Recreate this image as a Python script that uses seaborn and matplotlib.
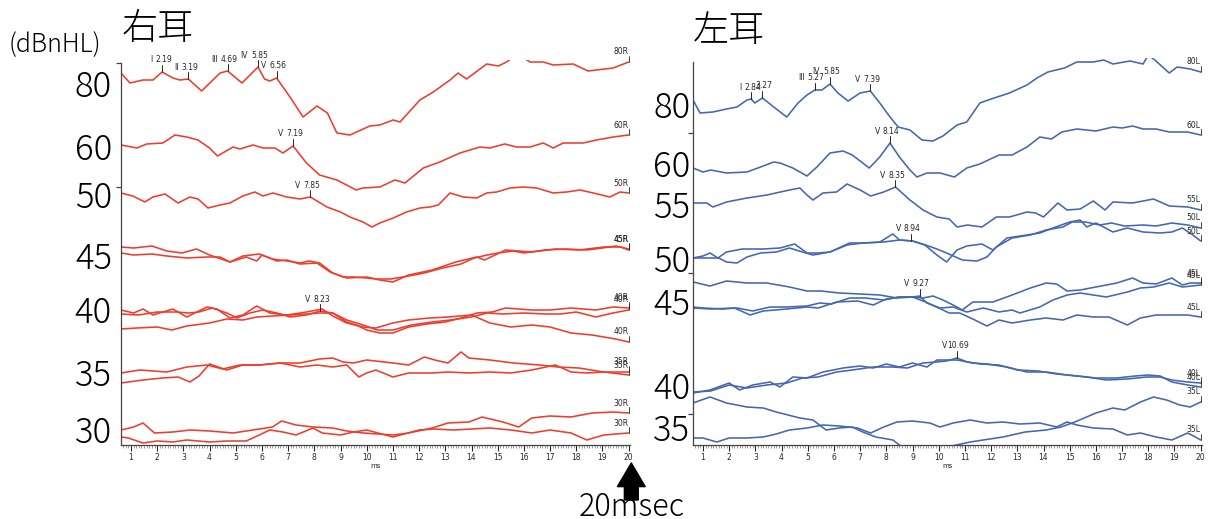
import numpy as np
import pandas as pd
import matplotlib
matplotlib.use("Agg")
import matplotlib.pyplot as plt
from matplotlib.ticker import MultipleLocator
import seaborn as sns

# ---------------- right ear (右耳) waveforms: latency [ms] / level ----------------
R80_MS = [0.62, 0.96, 1.46, 1.84, 2.19, 2.6, 2.87, 3.19, 3.7, 4.4, 4.69, 5.24, 5.85, 6.1, 6.3, 6.56,
          7.07, 7.57, 8.1, 8.5, 8.86, 9.36, 10.12, 10.5, 11.01, 11.27, 12.03, 12.54, 13.18, 13.49,
          13.81, 14.58, 15.02, 15.34, 15.6, 15.95, 16.23, 16.74, 17.12, 17.88, 18.45, 19.41, 20.0]
R80_LV = [372, 362, 365, 365, 373, 367, 365, 366, 354, 372, 374, 362, 378, 366, 364, 367,
          348, 328, 339, 332, 312, 310, 319, 320, 325, 323, 345, 353, 365, 372,
          366, 381, 379, 383, 388, 388, 383, 383, 380, 381, 374, 377, 383]

R60_MS = [0.62, 1.23, 1.6, 2.22, 2.68, 3.13, 3.56, 4.0, 4.3, 4.9, 5.16, 5.66, 6.04, 6.5, 6.8, 7.19,
          7.7, 8.2, 8.86, 9.6, 9.85, 10.5, 11.08, 11.46, 12.16, 12.79, 13.56, 14.32, 14.7, 15.27,
          15.72, 16.23, 16.74, 17.12, 17.5, 18.26, 18.77, 19.41, 20.0]
R60_LV = [300, 297, 301, 302, 310, 308, 305, 297, 289, 298, 296, 300, 297, 297, 292, 299,
          282, 270, 265, 255, 257, 258, 265, 262, 277, 283, 292, 298, 297, 301,
          298, 298, 302, 297, 302, 302, 305, 308, 310]

R50_MS = [0.62, 1.07, 1.53, 1.84, 2.3, 2.8, 3.25, 3.56, 3.94, 4.4, 4.78, 5.27, 5.73, 6.04, 6.42,
          6.95, 7.45, 7.85, 8.48, 9.0, 9.36, 9.86, 10.2, 10.5, 11.01, 11.52, 12.03, 12.41, 12.73,
          13.18, 13.69, 14.2, 14.58, 14.96, 15.47, 15.98, 16.49, 17.12, 17.63, 18.14, 18.65,
          19.28, 19.67, 20.0]
R50_LV = [252, 249, 243, 248, 251, 242, 248, 246, 237, 240, 242, 249, 253, 249, 252,
          248, 246, 248, 238, 233, 228, 223, 218, 222, 227, 233, 237, 238, 240,
          252, 248, 247, 252, 253, 257, 258, 257, 252, 253, 255, 252,
          248, 253, 252]

R45A_MS = [0.62, 1.1, 1.8, 2.37, 2.95, 3.5, 4.0, 4.78, 5.27, 5.9, 6.4, 6.95, 7.45, 7.8, 8.2, 8.7,
           9.24, 10.0, 10.5, 11.0, 11.6, 12.5, 13.4, 14.2, 14.5, 15.3, 16.3, 17.2, 18.1, 19.05,
           19.7, 20.0]
R45A_LV = [198, 197, 199, 194, 192, 196, 190, 183, 189, 191, 186, 184, 182, 184, 182, 172,
           167, 168, 165, 163, 170, 175, 183, 188, 185, 195, 193, 196, 195, 198,
           198, 195]

R45B_MS = [0.62, 1.1, 1.8, 2.37, 3.13, 3.9, 4.4, 4.78, 5.4, 5.8, 6.0, 6.57, 6.95, 7.45, 8.1, 8.6,
           9.1, 9.5, 10.0, 10.4, 10.9, 11.6, 12.2, 12.9, 13.6, 14.1, 14.6, 15.0, 15.6, 16.0,
           16.8, 17.6, 18.4, 19.0, 19.5, 20.0]
R45B_LV = [192, 190, 191, 189, 187, 188, 188, 183, 188, 184, 190, 184, 185, 181, 182, 173,
           168, 168, 167, 166, 166, 169, 172, 177, 181, 187, 190, 192, 194, 192,
           195, 196, 195, 197, 199, 196]

R40A_MS = [0.62, 1.1, 1.46, 1.84, 2.6, 3.13, 3.9, 4.28, 4.78, 5.27, 5.8, 6.3, 6.95, 7.7, 8.3, 8.7,
           9.24, 9.86, 10.35, 11.0, 11.6, 12.4, 13.1, 14.0, 14.7, 15.5, 16.3, 17.0, 17.8, 18.6,
           19.05, 19.5, 20.0]
R40A_LV = [135, 132, 136, 130, 136, 128, 138, 136, 127, 130, 139, 132, 130, 133, 136, 129,
           122, 118, 117, 122, 125, 127, 128, 130, 122, 118, 120, 118, 112, 110,
           108, 106, 103]

R40B_MS = [0.62, 1.3, 2.0, 2.75, 3.2, 3.6, 4.1, 4.66, 5.05, 5.54, 6.04, 6.57, 7.07, 7.7, 8.23, 8.7,
           9.24, 9.6, 10.0, 10.5, 11.0, 11.6, 12.3, 13.0, 13.6, 14.2, 14.8, 15.3, 16.3, 17.0,
           17.8, 18.75, 19.4, 20.0]
R40B_LV = [131, 130, 133, 133, 132, 133, 137, 132, 127, 132, 135, 132, 128, 130, 134, 132,
           123, 120, 115, 112, 112, 118, 121, 123, 127, 132, 133, 137, 135, 135,
           137, 135, 138, 137]

R40C_MS = [0.62, 1.23, 2.0, 2.56, 3.13, 4.0, 4.66, 5.27, 5.8, 6.42, 7.07, 7.7, 8.2, 8.7, 9.24, 9.86,
           10.4, 11.0, 11.7, 12.5, 13.2, 14.0, 14.6, 15.2, 16.0, 16.8, 17.4, 18.0, 18.75, 19.4, 20.0]
R40C_LV = [116, 117, 118, 115, 119, 122, 126, 125, 128, 129, 130, 131, 132, 132, 125, 120,
           115, 115, 120, 123, 125, 128, 132, 131, 132, 131, 131, 133, 128, 132, 135]

R35A_MS = [0.62, 1.34, 2.37, 3.13, 3.9, 4.5, 5.16, 5.9, 6.7, 7.45, 8.2, 8.7, 9.1, 9.5, 10.0, 11.0,
           11.6, 12.2, 12.6, 13.1, 13.6, 13.9, 14.7, 15.6, 16.6, 17.3, 18.1, 19.05, 20.0]
R35A_LV = [72, 75, 73, 78, 80, 76, 80, 80, 82, 82, 86, 87, 83, 82, 85, 82,
           80, 88, 85, 82, 93, 87, 85, 82, 80, 78, 77, 73, 73]

R35B_MS = [0.62, 1.46, 2.2, 2.8, 3.25, 3.6, 4.0, 4.66, 5.27, 5.9, 6.7, 7.45, 8.1, 8.7, 9.24, 9.7,
           10.0, 10.35, 11.0, 11.6, 12.5, 13.1, 13.9, 14.7, 15.5, 16.3, 17.2, 17.8, 18.4, 19.05, 20.0]
R35B_LV = [62, 65, 67, 68, 63, 69, 81, 75, 80, 80, 82, 78, 80, 78, 80, 68,
           72, 75, 68, 72, 72, 73, 72, 73, 72, 75, 80, 73, 72, 73, 70]

R30A_MS = [0.62, 1.1, 1.46, 1.9, 2.6, 3.25, 4.0, 4.9, 5.9, 6.4, 6.75, 7.3, 7.95, 8.7, 9.24, 9.86,
           11.0, 11.6, 12.5, 13.1, 13.9, 14.4, 15.2, 15.8, 16.3, 17.0, 17.8, 18.6, 19.4, 20.0]
R30A_LV = [15, 18, 22, 12, 13, 15, 14, 12, 16, 18, 24, 20, 18, 17, 14, 12,
           10, 12, 17, 22, 23, 28, 23, 18, 27, 29, 28, 32, 33, 32]

R30B_MS = [0.62, 0.9, 1.46, 2.0, 2.6, 3.13, 4.0, 4.66, 5.4, 5.9, 6.3, 6.8, 7.3, 7.95, 8.3, 9.0,
           9.5, 10.0, 11.0, 12.0, 12.6, 13.3, 14.0, 14.7, 15.5, 16.3, 17.0, 17.8, 18.4, 19.05, 20.0]
R30B_LV = [8, 7, 2, 4, 3, 5, 3, 4, 4, 10, 15, 13, 10, 17, 12, 10,
           13, 15, 8, 15, 16, 15, 16, 17, 15, 12, 15, 12, 5, 10, 12]

# ---------------- left ear (左耳) waveforms ----------------
L80_MS = [0.62, 0.89, 1.38, 1.9, 2.3, 2.68, 2.84, 2.98, 3.27, 3.75, 4.2, 4.63, 4.97, 5.27, 5.54,
          5.85, 6.15, 6.54, 7.0, 7.39, 7.75, 8.14, 8.45, 8.9, 9.36, 9.78, 10.16, 10.7, 11.07,
          11.57, 12.0, 12.7, 13.37, 13.75, 14.17, 14.8, 15.27, 15.9, 16.3, 16.65, 17.3, 17.8,
          18.0, 18.25, 18.8, 19.1, 19.6, 20.0]
L80_LV = [345, 332, 333, 336, 338, 345, 346, 342, 347, 337, 328, 342, 350, 355, 355,
          361, 352, 344, 352, 354, 342, 328, 318, 315, 305, 304, 309, 320, 323,
          342, 346, 352, 360, 367, 373, 377, 383, 383, 385, 381, 384, 381,
          390, 385, 372, 378, 376, 373]

L60_MS = [0.62, 1.0, 1.3, 1.9, 2.68, 3.2, 3.7, 3.94, 4.43, 4.97, 5.35, 5.85, 6.35, 6.7, 7.35, 7.75,
          8.14, 8.5, 8.9, 9.17, 9.55, 10.05, 10.6, 11.07, 11.57, 12.3, 12.8, 13.37, 13.86, 14.3,
          14.7, 15.27, 16.0, 16.65, 17.0, 17.4, 17.8, 18.3, 18.8, 19.5, 20.0]
L60_LV = [277, 273, 275, 272, 273, 278, 283, 282, 277, 269, 278, 292, 294, 290, 277, 288,
          302, 288, 275, 268, 272, 272, 268, 277, 281, 290, 290, 298, 308, 306,
          313, 316, 314, 318, 317, 319, 316, 316, 313, 313, 310]

L55_MS = [0.62, 1.15, 1.38, 1.9, 2.68, 3.44, 4.3, 4.7, 4.97, 5.2, 5.58, 6.1, 6.5, 7.0, 7.4, 7.9,
          8.35, 8.9, 9.4, 9.93, 10.4, 10.7, 11.1, 11.65, 12.2, 12.7, 13.37, 13.7, 14.0, 14.55,
          14.9, 15.4, 15.9, 16.35, 16.65, 17.4, 18.2, 18.8, 19.5, 20.0]
L55_LV = [242, 242, 238, 243, 247, 250, 255, 257, 250, 245, 252, 253, 261, 255, 249, 253,
          258, 245, 235, 228, 226, 218, 220, 218, 228, 228, 233, 232, 228, 242,
          235, 236, 244, 235, 243, 242, 246, 239, 238, 235]

L50A_MS = [0.62, 1.0, 1.27, 1.57, 1.9, 2.5, 3.3, 3.94, 4.5, 4.97, 5.4, 5.85, 6.5, 7.1, 7.75, 8.25,
           8.5, 9.0, 9.47, 9.93, 10.3, 10.7, 11.07, 11.65, 12.07, 12.6, 13.37, 13.86, 14.36, 15.0,
           15.4, 15.65, 16.0, 16.65, 17.2, 17.8, 18.45, 18.9, 19.3, 19.7, 20.0]
L50A_LV = [187, 189, 192, 187, 193, 196, 196, 197, 201, 192, 192, 193, 200, 202, 203, 211,
           205, 204, 200, 190, 183, 195, 199, 201, 195, 207, 210, 212, 217, 223,
           225, 218, 222, 213, 217, 213, 212, 213, 217, 210, 204]

L50B_MS = [0.62, 1.2, 1.6, 1.9, 2.3, 2.68, 3.2, 3.8, 4.3, 4.8, 5.2, 5.85, 6.6, 7.2, 7.9, 8.5,
           9.0, 9.5, 9.93, 10.3, 10.9, 11.46, 11.84, 12.2, 12.8, 13.5, 14.1, 14.74, 15.1, 15.6,
           16.15, 16.6, 17.1, 17.8, 18.3, 18.9, 19.5, 20.0]
L50B_LV = [187, 187, 187, 183, 182, 188, 192, 193, 197, 193, 190, 193, 202, 202, 203, 205,
           204, 200, 196, 192, 185, 184, 188, 198, 207, 210, 215, 218, 223, 223,
           220, 222, 219, 220, 219, 222, 220, 217]

L45A_MS = [0.62, 1.27, 1.9, 2.68, 3.44, 4.3, 4.97, 5.5, 6.2, 7.0, 7.75, 8.4, 9.0, 9.4, 9.78, 10.16,
           10.55, 10.9, 11.3, 12.07, 12.8, 13.5, 14.1, 14.5, 14.9, 15.4, 16.0, 16.8, 17.4, 17.8,
           18.3, 18.9, 19.3, 19.6, 20.0]
L45A_LV = [163, 159, 164, 162, 162, 158, 154, 154, 152, 151, 150, 147, 148, 147, 149, 145,
           140, 135, 143, 143, 150, 157, 162, 161, 154, 155, 158, 162, 167, 162,
           161, 167, 160, 162, 162]

L45B_MS = [0.62, 1.0, 1.76, 2.3, 2.9, 3.56, 4.2, 4.97, 5.46, 5.9, 6.6, 7.2, 7.9, 8.5, 9.0, 9.27,
           9.55, 10.05, 10.55, 11.07, 11.7, 12.3, 12.8, 13.1, 13.86, 14.36, 14.9, 15.4, 15.9, 16.4,
           17.2, 17.7, 18.2, 18.8, 19.3, 20.0]
L45B_LV = [138, 137, 136, 137, 134, 138, 138, 139, 142, 141, 147, 147, 145, 148, 148, 149,
           142, 137, 138, 133, 137, 133, 135, 132, 138, 145, 150, 152, 150, 148,
           153, 157, 158, 162, 158, 160]

L45C_MS = [0.62, 1.3, 2.2, 2.8, 3.3, 4.2, 4.97, 5.4, 6.1, 6.9, 7.5, 8.0, 8.5, 9.0, 9.5, 10.0,
           10.4, 10.8, 11.3, 11.84, 12.3, 12.8, 13.5, 14.1, 14.74, 15.27, 15.9, 16.5, 17.2, 17.7,
           18.3, 18.9, 19.5, 20.0]
L45C_LV = [137, 136, 137, 130, 134, 136, 138, 137, 143, 144, 140, 146, 148, 148, 143, 137,
           132, 132, 126, 119, 125, 122, 125, 127, 125, 130, 128, 128, 120, 127,
           130, 130, 130, 128]

L40A_MS = [0.62, 1.27, 2.0, 2.4, 2.9, 3.56, 3.94, 4.43, 4.97, 5.58, 6.35, 7.0, 7.5, 8.0, 8.5, 9.0,
           9.55, 9.93, 10.4, 10.7, 11.3, 11.84, 12.6, 13.37, 14.1, 14.9, 15.65, 16.4, 17.2, 17.95,
           18.45, 18.9, 19.5, 20.0]
L40A_LV = [52, 55, 62, 55, 60, 63, 58, 68, 67, 73, 77, 79, 77, 81, 78, 82,
           78, 85, 85, 85, 82, 81, 78, 73, 73, 70, 68, 65, 66, 68,
           68, 65, 63, 62]

L40B_MS = [0.62, 1.3, 2.0, 2.68, 3.44, 4.2, 4.8, 5.4, 6.1, 6.7, 7.5, 8.25, 8.8, 9.4, 9.9, 10.3,
           10.69, 11.1, 11.6, 12.3, 13.0, 13.8, 14.5, 15.3, 16.0, 16.8, 17.5, 18.0, 18.45, 18.9,
           19.5, 20.0]
L40B_LV = [53, 54, 60, 57, 60, 62, 67, 68, 73, 75, 78, 78, 77, 82, 83, 84,
           87, 83, 81, 80, 75, 74, 71, 69, 67, 67, 69, 70, 69, 63,
           60, 58]

L35A_MS = [0.62, 1.27, 1.9, 2.68, 3.3, 3.8, 4.7, 5.2, 5.7, 6.2, 6.7, 7.1, 7.6, 8.25, 8.6, 9.5,
           10.5, 11.2, 11.7, 12.45, 13.3, 14.1, 14.67, 15.2, 16.0, 16.65, 17.1, 17.7, 18.2, 18.7,
           19.2, 19.6, 20.0]
L35A_LV = [42, 48, 42, 38, 37, 33, 27, 25, 15, 17, 18, 13, 8, 5, -2, -3,
           -1, 3, 5, 8, 13, 15, 18, 23, 32, 37, 35, 43, 48, 45,
           40, 38, 43]

L35B_MS = [0.62, 1.0, 1.53, 2.0, 2.68, 3.3, 3.8, 4.3, 4.97, 5.58, 6.2, 6.9, 7.4, 7.9, 8.4, 9.0,
           9.66, 10.05, 10.55, 11.2, 11.84, 12.45, 13.1, 13.86, 14.5, 14.9, 15.27, 15.9, 16.65, 17.2,
           17.7, 18.3, 18.9, 19.5, 19.8, 20.0]
L35B_LV = [7, 7, 3, 7, 7, 8, 11, 15, 17, 20, 19, 17, 12, 18, 23, 24,
           22, 18, 22, 25, 22, 23, 21, 22, 18, 23, 20, 17, 16, 10,
           12, 8, 5, 12, 8, 5]

# trace names printed at the end of each sweep
R_NAMES = ["80R", "60R", "50R", "45R", "45R", "40R", "40R", "40R", "35R", "35R", "30R", "30R"]
L_NAMES = ["80L", "60L", "55L", "50L", "50L", "45L", "45L", "45L", "40L", "40L", "35L", "35L"]

# marked peaks: (sweep index, wave number, latency ms)
R_PEAK_TRACE = [0, 0, 0, 0, 0, 1, 2, 6]
R_PEAK_WAVE = ["I", "II", "III", "IV", "V", "V", "V", "V"]
R_PEAK_MS = [2.19, 3.19, 4.69, 5.85, 6.56, 7.19, 7.85, 8.23]

L_PEAK_TRACE = [0, 0, 0, 0, 0, 1, 2, 4, 6, 9]
L_PEAK_WAVE = ["I", "", "III", "IV", "V", "V", "V", "V", "V", "V"]
L_PEAK_MS = [2.84, 3.27, 5.27, 5.85, 7.39, 8.14, 8.35, 8.94, 9.27, 10.69]

# stimulus levels (dBnHL) written beside the sweeps
R_LEVEL_TEXT = ["80", "60", "50", "45", "40", "35", "30"]
R_LEVEL_AT = [362, 299, 251, 190, 136, 73, 16]
L_LEVEL_TEXT = ["80", "60", "55", "50", "45", "40", "35"]
L_LEVEL_AT = [341, 282, 241, 187, 144, 60, 18]

R_TICKMARKS = [382, 258, 136, 16]
L_TICKMARKS = [312, 172, 31]

RED = "#ee3d2d"
BLUE = "#4467b2"
INK = "#262626"
SMALL = dict(family="DejaVu Sans", fontsize=5.5, color=INK)
BIG = dict(family=["Noto Sans CJK JP", "DejaVu Sans"], fontweight="light", color="black")

sns.set_theme(style="white")
plt.rcParams["font.family"] = ["Noto Sans CJK JP", "DejaVu Sans"]

R_TRACES = list(zip(R_NAMES,
                    [R80_MS, R60_MS, R50_MS, R45A_MS, R45B_MS, R40A_MS, R40B_MS, R40C_MS,
                     R35A_MS, R35B_MS, R30A_MS, R30B_MS],
                    [R80_LV, R60_LV, R50_LV, R45A_LV, R45B_LV, R40A_LV, R40B_LV, R40C_LV,
                     R35A_LV, R35B_LV, R30A_LV, R30B_LV]))
L_TRACES = list(zip(L_NAMES,
                    [L80_MS, L60_MS, L55_MS, L50A_MS, L50B_MS, L45A_MS, L45B_MS, L45C_MS,
                     L40A_MS, L40B_MS, L35A_MS, L35B_MS],
                    [L80_LV, L60_LV, L55_LV, L50A_LV, L50B_LV, L45A_LV, L45B_LV, L45C_LV,
                     L40A_LV, L40B_LV, L35A_LV, L35B_LV]))


def draw_ear(ax, traces, color, peak_trace, peak_wave, peak_ms,
             level_text, level_at, tickmarks, y_top, spine_top, label_pad):
    frames = [pd.DataFrame({"ms": ms, "level": lv, "sweep": k})
              for k, (_, ms, lv) in enumerate(traces)]
    df = pd.concat(frames, ignore_index=True)
    sns.lineplot(data=df, x="ms", y="level", units="sweep", estimator=None,
                 sort=False, color=color, linewidth=1.15, ax=ax, legend=False)

    ax.set_xlim(0.62, 20.05)
    ax.set_ylim(0, y_top)
    ax.set_xlabel("ms", fontsize=5, family="DejaVu Sans", labelpad=1, color=INK)
    ax.set_ylabel("")

    for side in ("top", "right"):
        ax.spines[side].set_visible(False)
    for side in ("left", "bottom"):
        ax.spines[side].set_color("#444444")
        ax.spines[side].set_linewidth(0.9)
    ax.spines["left"].set_bounds(0, spine_top)

    ax.set_xticks(range(1, 21))
    ax.set_xticklabels([str(i) for i in range(1, 21)], family="DejaVu Sans")
    ax.xaxis.set_minor_locator(MultipleLocator(0.1))
    ax.tick_params(axis="x", which="major", direction="out", length=4, width=0.8,
                   pad=1.5, labelsize=5.5, colors=INK, bottom=True)
    ax.tick_params(axis="x", which="minor", direction="out", length=1.8, width=0.4,
                   colors="#555555", bottom=True)

    ax.set_yticks(level_at)
    ax.set_yticklabels(level_text, fontsize=25, **BIG)
    ax.set_yticks(tickmarks, minor=True)
    ax.tick_params(axis="y", which="major", length=0, pad=label_pad, left=True)
    ax.tick_params(axis="y", which="minor", direction="out", length=3.5, width=0.9,
                   colors="#444444", left=True)
    ax.grid(False)

    # sweep names with end bracket
    for name, ms, lv in traces:
        ax.text(ms[-1], lv[-1] + 10, name, ha="right", va="center", **SMALL)
        ax.plot([ms[-1] + 0.03] * 2, [lv[-1], lv[-1] + 6], color=INK, lw=0.6,
                clip_on=False)

    # wave markers
    for k, wave, lat in zip(peak_trace, peak_wave, peak_ms):
        _, ms, lv = traces[k]
        y0 = float(np.interp(lat, ms, lv))
        ax.plot([lat, lat], [y0, y0 + 7], color=INK, lw=0.7, clip_on=False)
        ax.text(lat + 0.05, y0 + 7.5, f"{lat:.2f}", ha="center", va="bottom", **SMALL)
        if wave:
            ax.text(lat - 0.38, y0 + 7.5, wave, ha="right", va="bottom", **SMALL)


W, H = 1209, 519
fig = plt.figure(figsize=(W / 100, H / 100), dpi=100)
ax_r = fig.add_axes([121 / W, 74 / H, 509 / W, 385 / H])
ax_l = fig.add_axes([693 / W, 74 / H, 509 / W, 387 / H])

draw_ear(ax_r, R_TRACES, RED, R_PEAK_TRACE, R_PEAK_WAVE, R_PEAK_MS,
         R_LEVEL_TEXT, R_LEVEL_AT, R_TICKMARKS, 385, 382, 6.5)
draw_ear(ax_l, L_TRACES, BLUE, L_PEAK_TRACE, L_PEAK_WAVE, L_PEAK_MS,
         L_LEVEL_TEXT, L_LEVEL_AT, L_TICKMARKS, 387, 383, 2.0)

fig.text(122 / W, 1 - 29 / H, "右耳", fontsize=26, va="center", ha="left", **BIG)
fig.text(693 / W, 1 - 31 / H, "左耳", fontsize=26, va="center", ha="left", **BIG)
fig.text(9 / W, 1 - 45 / H, "(dBnHL)", fontsize=18, va="center", ha="left", **BIG)

# arrow pointing at the 20 ms end of the sweep window
ax_r.annotate("", xy=(20.1, 56), xytext=(20.1, 19),
              xycoords=("data", "figure pixels"), textcoords=("data", "figure pixels"),
              arrowprops=dict(arrowstyle="simple,head_length=0.85,head_width=1.0,tail_width=0.5",
                              mutation_scale=20, fc="black", ec="black",
                              shrinkA=0, shrinkB=0))
fig.text(632 / W, 3 / H, "20msec", fontsize=22, ha="center", va="baseline", **BIG)

fig.savefig("out.png", dpi=100, facecolor="white")
